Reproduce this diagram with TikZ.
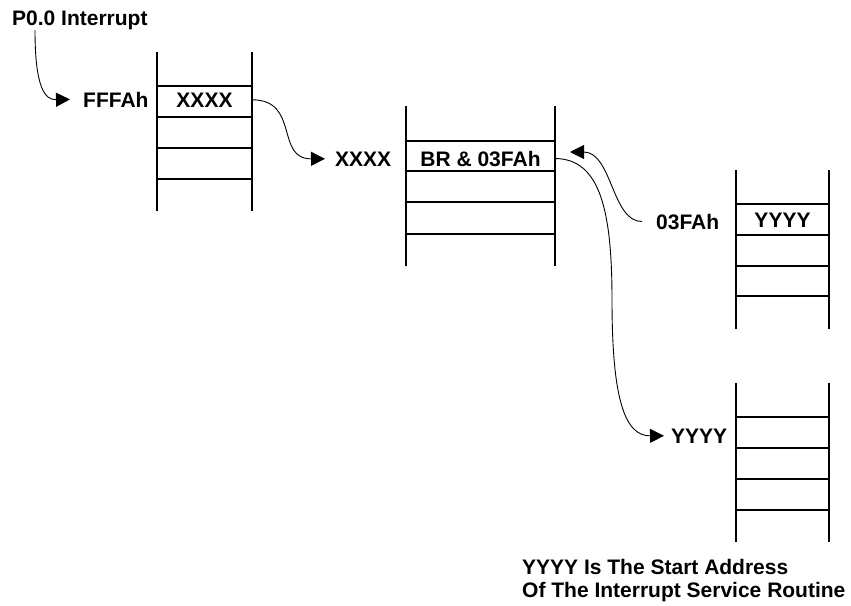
\documentclass[tikz,border=0pt]{standalone}
\usepackage{fontspec}
\setmainfont{Liberation Sans}
\usetikzlibrary{arrows.meta}
\begin{document}
\begin{tikzpicture}[x=1pt,y=-1pt,
  lbl/.style={font=\bfseries\fontsize{21}{24}\selectfont, inner sep=0pt, anchor=base west},
  cell/.style={font=\bfseries\fontsize{21}{24}\selectfont, inner sep=0pt, anchor=base},
  rail/.style={line width=2.6pt},
  rung/.style={line width=2.2pt},
  link/.style={line width=0.9pt},
  arr/.style={link, -{Triangle[length=14pt,width=14pt]}}]
\useasboundingbox (0,0) rectangle (851,605);

% stacks
\draw[rail] (157,52) -- (157,211) (252,52) -- (252,211);
\foreach \y in {86,117,148,179} \draw[rung] (157,\y) -- (252,\y);
\draw[rail] (406,106) -- (406,266) (555,106) -- (555,266);
\foreach \y in {141,171,202,234} \draw[rung] (406,\y) -- (555,\y);
\draw[rail] (736,170) -- (736,329) (829,170) -- (829,329);
\foreach \y in {204,235,266,296} \draw[rung] (736,\y) -- (829,\y);
\draw[rail] (736,383) -- (736,542) (829,383) -- (829,542);
\foreach \y in {417,448,479,510} \draw[rung] (736,\y) -- (829,\y);

% texts
\node[lbl] (p0) at (12,25) {P0.0 Interrupt};
\coordinate (p0out) at (35,30);
\node[lbl, inner xsep=13pt] (fffa) at (70,107) {FFFAh};
\node[cell, minimum width=95pt] (xa) at (204.5,107) {XXXX};
\node[lbl, inner xsep=10pt] (xb) at (325,166) {XXXX};
\node[cell, minimum width=149pt] (br) at (480.5,166) {BR \& 03FAh};
\node[lbl, inner xsep=14pt] (f03) at (642,229) {03FAh};
\coordinate (brin) at (570,152);
\node[cell, minimum width=93pt] (yc) at (782.5,227) {YYYY};
\node[lbl, inner xsep=7pt] (yl) at (664,443) {YYYY};
\node[lbl] (n1) at (522,574) {YYYY Is The Start Address};
\node[lbl] (n2) at (522,597) {Of The Interrupt Service Routine};

% connectors
\draw[arr] (p0out) .. controls (35,88) and (45,100) .. (fffa.west);
\draw[arr] (xa.east) .. controls (300,100) and (275,159) .. (xb.west);
\draw[arr] (f03.west) .. controls (612,222) and (612,152) .. (brin);
\draw[arr] (br.east) .. controls (600,159) and (612,210) .. (612,300)
  .. controls (612,400) and (625,436) .. (yl.west);
\end{tikzpicture}
\end{document}
